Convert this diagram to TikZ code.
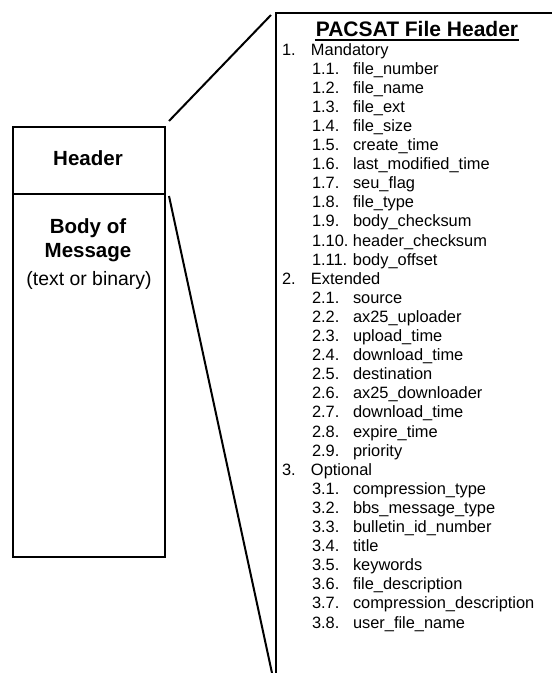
\documentclass[tikz,border=0pt]{standalone}
\usepackage{fontspec}
\setmainfont{Liberation Sans}
\begin{document}
\begin{tikzpicture}[x=1pt,y=-1pt,line width=2pt,
  item/.style={anchor=base west,inner sep=0pt,font=\fontsize{16.4}{19}\selectfont},
  boldtxt/.style={anchor=base,inner sep=0pt,font=\fontsize{20.5}{24}\selectfont\bfseries},
  regtxt/.style={anchor=base,inner sep=0pt,font=\fontsize{19.4}{23}\selectfont},
  titletxt/.style={anchor=base,inner sep=0pt,font=\fontsize{21}{25}\selectfont\bfseries},
  boxpart/.style={draw,line width=2pt,anchor=north west,inner sep=0pt,minimum width=152pt},
  rule/.style={line width=2pt}]
\useasboundingbox (0,0) rectangle (552,673);
% left stack
\node[boxpart,minimum height=67pt] (hdr) at (12,126) {};
\node[boxpart,minimum height=363pt] (body) at (12,193) {};
\node[boldtxt] (hdrtxt) at (88,165) {Header};
\node[boldtxt] (bodytxt1) at (88,233) {Body of};
\node[boldtxt] (bodytxt2) at (88,257) {Message};
\node[regtxt] (bodytxt3) at (89,285) {(text or binary)};
% panel
\coordinate (ptl) at (276,13);
\coordinate (ptr) at (552,13);
\coordinate (pbl) at (276,673);
\draw[line width=2.3pt] (ptr) -- (ptl) -- (pbl);
% zoom lines
\coordinate (topend) at (271,15);
\coordinate (botend) at (272,673);
\draw[rule] ([shift={(3,-5)}]hdr.north east) -- (topend);
\draw[rule] ([shift={(3,3)}]body.north east) -- (botend);
% title
\node[titletxt] (ttl) at (417,36) {PACSAT File Header};
\draw[line width=1.8pt] ([shift={(0,4)}]ttl.base west) -- ([shift={(0,4)}]ttl.base east);
% top-level entries
\node[item] (T1) at (281,55) {\makebox[29pt][l]{1.}Mandatory};
\node[item] (T2) at (281,{55+19.1*12}) {\makebox[29pt][l]{2.}Extended};
\node[item] (T3) at (281,{55+19.1*22}) {\makebox[29pt][l]{3.}Optional};
% sub entries
\foreach \k/\n/\t in {
  1/1.1./file\_number, 2/1.2./file\_name, 3/1.3./file\_ext, 4/1.4./file\_size,
  5/1.5./create\_time, 6/1.6./last\_modified\_time, 7/1.7./seu\_flag,
  8/1.8./file\_type, 9/1.9./body\_checksum, 10/1.10./header\_checksum,
  11/1.11./body\_offset,
  13/2.1./source, 14/2.2./ax25\_uploader, 15/2.3./upload\_time,
  16/2.4./download\_time, 17/2.5./destination, 18/2.6./ax25\_downloader,
  19/2.7./download\_time, 20/2.8./expire\_time, 21/2.9./priority,
  23/3.1./compression\_type, 24/3.2./bbs\_message\_type,
  25/3.3./bulletin\_id\_number, 26/3.4./title, 27/3.5./keywords,
  28/3.6./file\_description, 29/3.7./compression\_description,
  30/3.8./user\_file\_name}
  \node[item] (L\k) at (311,{55+19.1*\k}) {\makebox[41pt][l]{\n}\t};
\end{tikzpicture}
\end{document}
